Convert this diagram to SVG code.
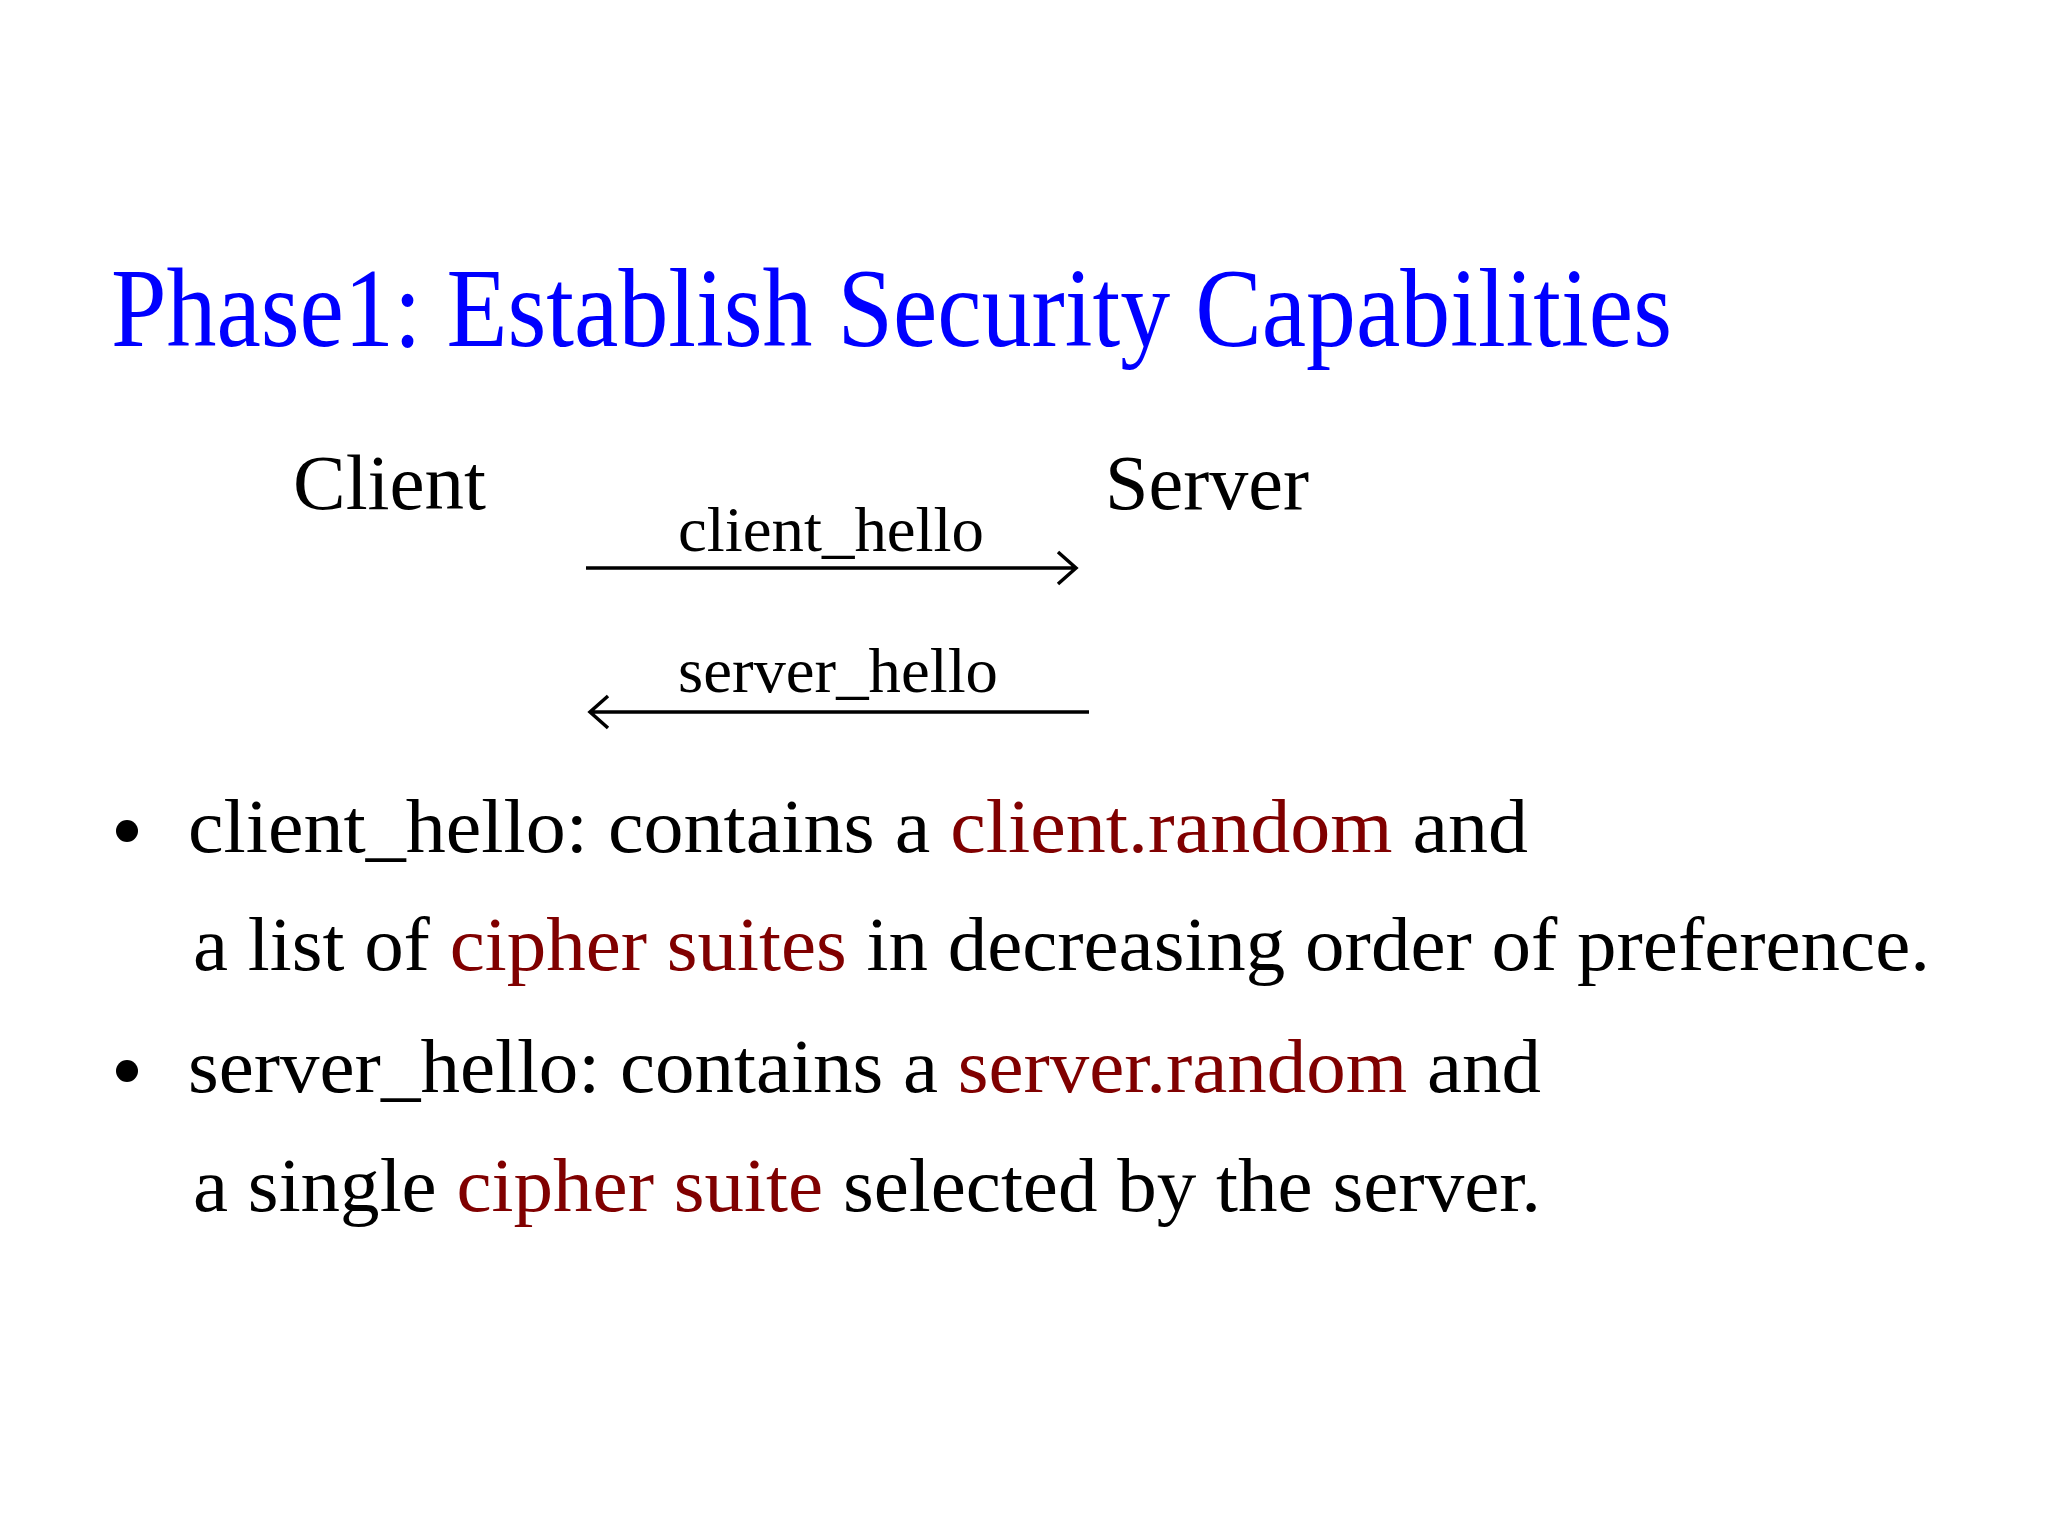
<svg xmlns="http://www.w3.org/2000/svg" width="2048" height="1536" viewBox="0 0 2048 1536">
<style>
text{font-family:"Liberation Serif","Times New Roman",serif;fill:#000}
.t{fill:#0000ff;font-size:112px}
.b{font-size:76px}
.n{font-size:78px}
.l{font-size:63px}
.r{fill:#800000}
.ln{stroke:#000;stroke-width:3.5;fill:none}
</style>
<rect width="2048" height="1536" fill="#fff"/>
<text class="t" x="111" y="346" textLength="1561" lengthAdjust="spacingAndGlyphs">Phase1:  Establish Security Capabilities</text>
<g id="client"><text class="n" x="293" y="509" textLength="193" lengthAdjust="spacingAndGlyphs">Client</text></g>
<g id="server"><text class="n" x="1105" y="509" textLength="204" lengthAdjust="spacingAndGlyphs">Server</text></g>
<g id="connectors">
<text class="l" x="678" y="551" textLength="306" lengthAdjust="spacingAndGlyphs">client_hello</text>
<path class="ln" d="M586 568H1076M1058 552L1076 568L1058 584"/>
<text class="l" x="678" y="692" textLength="320" lengthAdjust="spacingAndGlyphs">server_hello</text>
<path class="ln" d="M1089 712H590M608 696L590 712L608 728"/>
</g>
<g id="bullets">
<circle cx="127" cy="831" r="11"/>
<text class="b" x="188" y="852" textLength="1340" lengthAdjust="spacingAndGlyphs">client_hello:  contains a <tspan class="r">client.random</tspan> and</text>
<text class="b" x="193" y="970" textLength="1737" lengthAdjust="spacingAndGlyphs">a list of <tspan class="r">cipher suites</tspan> in decreasing order of preference.</text>
<circle cx="127" cy="1071" r="11"/>
<text class="b" x="188" y="1092" textLength="1353" lengthAdjust="spacingAndGlyphs">server_hello: contains a <tspan class="r">server.random</tspan> and</text>
<text class="b" x="193" y="1211" textLength="1348" lengthAdjust="spacingAndGlyphs">a single <tspan class="r">cipher suite</tspan> selected by the server.</text>
</g>
</svg>
